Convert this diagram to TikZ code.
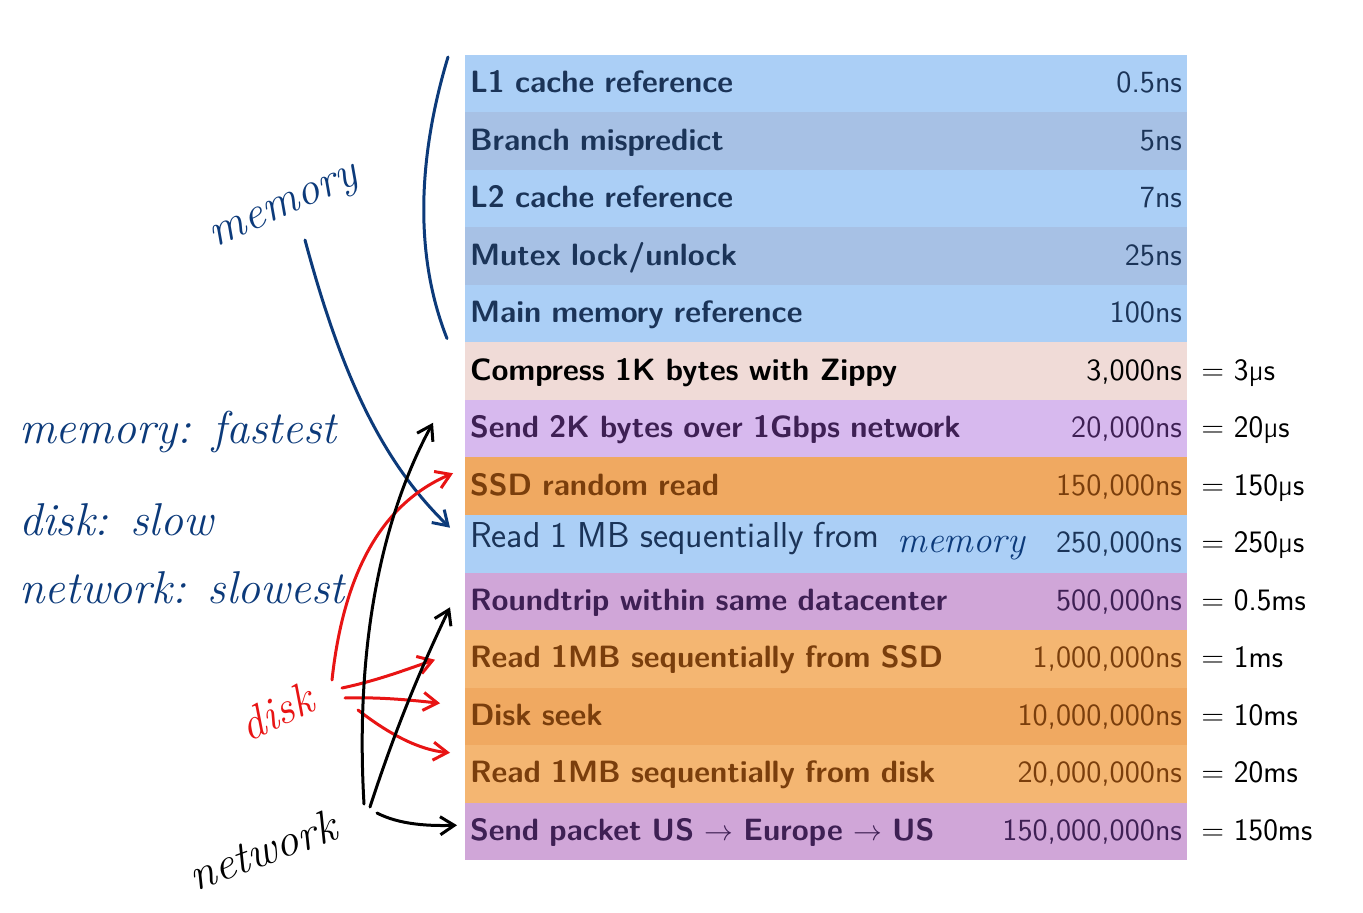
\documentclass[tikz,border=0pt]{standalone}
\usepackage{tikz}
\usetikzlibrary{positioning,arrows.meta}
\definecolor{lblue}{RGB}{171,207,246}
\definecolor{dblue}{RGB}{167,193,229}
\definecolor{pinkrow}{RGB}{240,219,215}
\definecolor{lav}{RGB}{215,185,238}
\definecolor{orng}{RGB}{240,169,97}
\definecolor{lorng}{RGB}{244,182,114}
\definecolor{purp}{RGB}{208,166,216}
\definecolor{navytxt}{RGB}{27,52,88}
\definecolor{browntxt}{RGB}{122,62,12}
\definecolor{purptxt}{RGB}{62,32,84}
\definecolor{ink}{RGB}{12,58,122}
\definecolor{redink}{RGB}{232,20,20}

\begin{document}
\begin{tikzpicture}[x=0.5pt,y=-0.5pt,
  rowbox/.style={minimum width=361pt, minimum height=28.75pt, text width=356pt,
    text height=12.5pt, text depth=3.5pt,
    inner xsep=2.5pt, inner ysep=0pt, outer sep=0pt, font=\sffamily\fontsize{15.4}{17}\selectfont},
  conv/.style={font=\sffamily\fontsize{15.6}{17}\selectfont, inner xsep=1pt, inner ysep=0pt,
    text height=12.5pt, text depth=3.5pt},
  hand/.style={font=\fontsize{23}{26}\selectfont\itshape},
  pen/.style={line width=1.5pt, line cap=round, -{Straight Barb[length=7pt,width=9pt]}}]
  \useasboundingbox (0,0) rectangle (1363,913);
  \node[rowbox, fill=lblue, text=navytxt, anchor=north west] (l1) at (465,55) {\textbf{L1 cache reference}\hfill 0.5ns};
  \node[rowbox, fill=dblue, text=navytxt, below=0pt of l1] (bm) {\textbf{Branch mispredict}\hfill 5ns};
  \node[rowbox, fill=lblue, text=navytxt, below=0pt of bm] (l2) {\textbf{L2 cache reference}\hfill 7ns};
  \node[rowbox, fill=dblue, text=navytxt, below=0pt of l2] (mx) {\textbf{Mutex lock/unlock}\hfill 25ns};
  \node[rowbox, fill=lblue, text=navytxt, below=0pt of mx] (mm) {\textbf{Main memory reference}\hfill 100ns};
  \node[rowbox, fill=pinkrow, text=black, below=0pt of mm] (cz) {\textbf{Compress 1K bytes with Zippy}\hfill 3,000ns};
  \node[rowbox, fill=lav, text=purptxt, below=0pt of cz] (sn) {\textbf{Send 2K bytes over 1Gbps network}\hfill 20,000ns};
  \node[rowbox, fill=orng, text=browntxt, below=0pt of sn] (ssd) {\textbf{SSD random read}\hfill 150,000ns};
  \node[rowbox, fill=lblue, text=navytxt, below=0pt of ssd] (rm) {\raisebox{2.5pt}{\fontsize{18}{18}\selectfont Read 1 MB sequentially from}\hspace{9pt}{\color{ink}\fontsize{18.5}{18}\selectfont\rmfamily\itshape memory}\hfill 250,000ns};
  \node[rowbox, fill=purp, text=purptxt, below=0pt of rm] (dc) {\textbf{Roundtrip within same datacenter}\hfill 500,000ns};
  \node[rowbox, fill=lorng, text=browntxt, below=0pt of dc] (rs) {\textbf{Read 1MB sequentially from SSD}\hfill 1,000,000ns};
  \node[rowbox, fill=orng, text=browntxt, below=0pt of rs] (ds) {\textbf{Disk seek}\hfill 10,000,000ns};
  \node[rowbox, fill=lorng, text=browntxt, below=0pt of ds] (rd) {\textbf{Read 1MB sequentially from disk}\hfill 20,000,000ns};
  \node[rowbox, fill=purp, text=purptxt, below=0pt of rd] (sp) {\textbf{Send packet US $\rightarrow$ Europe $\rightarrow$ US}\hfill 150,000,000ns};
  \node[conv, right=6pt of cz.east, anchor=west] (czc) {= 3µs};
  \node[conv, right=6pt of sn.east, anchor=west] (snc) {= 20µs};
  \node[conv, right=6pt of ssd.east, anchor=west] (ssdc) {= 150µs};
  \node[conv, right=6pt of rm.east, anchor=west] (rmc) {= 250µs};
  \node[conv, right=6pt of dc.east, anchor=west] (dcc) {= 0.5ms};
  \node[conv, right=6pt of rs.east, anchor=west] (rsc) {= 1ms};
  \node[conv, right=6pt of ds.east, anchor=west] (dsc) {= 10ms};
  \node[conv, right=6pt of rd.east, anchor=west] (rdc) {= 20ms};
  \node[conv, right=6pt of sp.east, anchor=west] (spc) {= 150ms};
  \node[hand, text=ink, rotate=24] (memlbl) at (286,210) {memory};
  \node[hand, text=ink, anchor=west] (fast) at (12,432) {memory: fastest};
  \node[hand, text=ink, anchor=west] (slow) at (12,520) {disk: slow};
  \node[hand, text=ink, anchor=west] (slowest) at (12,588) {network: slowest};
  \node[hand, text=redink, rotate=25] (disklbl) at (276,712) {disk};
  \node[hand, text=black, rotate=20] (netlbl) at (262,850) {network};
  \coordinate (memfoot) at (305,240);
  \coordinate (diskfoot) at (332,680);
  \coordinate (netfoot) at (364,804);
  \draw[ink, line width=1.5pt, line cap=round] ([shift={(-17,2)}]l1.north west) .. controls (420,150) and (412,250) .. ([shift={(-18,-4)}]mm.south west);
  \draw[pen, ink] (memfoot) .. controls (340,370) and (380,460) .. ([shift={(-15,-16)}]rm.west);
  \draw[pen, redink] (diskfoot) .. controls (345,560) and (390,500) .. ([shift={(-12,-13)}]ssd.west);
  \draw[pen, redink] ([shift={(10,8)}]diskfoot) .. controls (380,680) and (410,668) .. ([shift={(-30,1)}]rs.west);
  \draw[pen, redink] ([shift={(13,18)}]diskfoot) .. controls (380,697) and (410,700) .. ([shift={(-25,-13)}]ds.west);
  \draw[pen, redink] ([shift={(26,30)}]diskfoot) .. controls (390,735) and (420,750) .. ([shift={(-15,-21)}]rd.west);
  \draw[pen] (netfoot) .. controls (355,650) and (380,520) .. ([shift={(-32,-6)}]sn.west);
  \draw[pen] ([shift={(6,3)}]netfoot) .. controls (395,730) and (420,670) .. ([shift={(-15,6)}]dc.west);
  \draw[pen] ([shift={(13,9)}]netfoot) .. controls (400,825) and (430,826) .. ([shift={(-8,-6)}]sp.west);
\end{tikzpicture}
\end{document}
